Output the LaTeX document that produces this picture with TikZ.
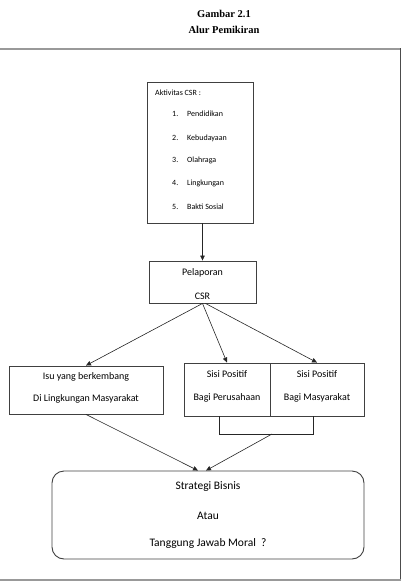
\documentclass[tikz,border=0pt]{standalone}
\usepackage{fontspec}
\setmainfont{Carlito}
\newfontfamily\judulfont{Liberation Serif}
\usetikzlibrary{arrows.meta}

\begin{document}
\begin{tikzpicture}[x=1pt,y=-1pt,
  kotak/.style={draw=black!75, line width=0.9pt, inner sep=0pt},
  panah/.style={black!85, line width=0.6pt, -{Triangle[length=5pt,width=4.5pt]}},
  garis/.style={black!85, line width=0.6pt},
  teks/.style={font=\fontsize{10}{12}\selectfont, inner sep=0pt},
  kecil/.style={font=\fontsize{8}{9}\selectfont, inner sep=0pt, anchor=west},
  judul/.style={font=\judulfont\bfseries\fontsize{10.5}{12}\selectfont, inner sep=0pt}]

\useasboundingbox (0,0) rectangle (401,585);

\node[judul] (judul1) at (224,14) {Gambar 2.1};
\node[judul] (judul2) at (224,30) {Alur Pemikiran};

% bingkai
\draw[gray!80, line width=2pt] (0,49.5) -- (400,49.5);
\draw[black!70, line width=1pt] (400,48.5) -- (400,580);
\draw[gray!80, line width=2pt] (0,580) -- (401,580);

% kotak
\node[kotak, minimum width=106pt, minimum height=141pt] (csr) at (200,152.5) {};
\node[kotak, minimum width=107pt, minimum height=42pt] (lapor) at (202.5,282) {};
\node[kotak, minimum width=154pt, minimum height=48pt] (isu) at (86,390) {};
\node[kotak, minimum width=86pt, minimum height=53pt] (sisiA) at (227,389.5) {};
\node[kotak, minimum width=94pt, minimum height=53pt] (sisiB) at (317,389.5) {};
\node[kotak, rounded corners=12pt, minimum width=312pt, minimum height=88pt] (strat) at (208,515) {};

% isi kotak csr
\node[kecil] (akt) at (155,93) {Aktivitas CSR :};
\node[kecil] (n1) at (172,114) {1.};
\node[kecil] (n2) at (172,138) {2.};
\node[kecil] (n3) at (172,160) {3.};
\node[kecil] (n4) at (172,183) {4.};
\node[kecil] (n5) at (172,207) {5.};
\node[kecil] (k1) at (187,114) {Pendidikan};
\node[kecil] (k2) at (187,138) {Kebudayaan};
\node[kecil] (k3) at (187,160) {Olahraga};
\node[kecil] (k4) at (187,183) {Lingkungan};
\node[kecil] (k5) at (187,207) {Bakti Sosial};

% teks kotak lain
\node[teks] (lap1) at (202.5,273) {Pelaporan};
\node[teks] (lap2) at (202.5,296) {CSR};
\node[teks] (isu1) at (86,377) {Isu yang berkembang};
\node[teks] (isu2) at (86,399) {Di Lingkungan Masyarakat};
\node[teks] (sa1) at (227,374) {Sisi Positif};
\node[teks] (sa2) at (227,398) {Bagi Perusahaan};
\node[teks] (sb1) at (317,374) {Sisi Positif};
\node[teks] (sb2) at (317,398) {Bagi Masyarakat};
\node[teks, font=\fontsize{11.5}{13}\selectfont] (st1) at (208,487) {Strategi Bisnis};
\node[teks, font=\fontsize{11.5}{13}\selectfont] (st2) at (208,516) {Atau};
\node[teks, font=\fontsize{11.5}{13}\selectfont] (st3) at (208,543) {Tanggung Jawab Moral\ \ ?};

% panah
\draw[panah] (lapor.north |- csr.south) -- (lapor.north);
\draw[panah] (lapor.south) -- (isu.north);
\draw[panah] (lapor.south) -- (sisiA.north);
\draw[panah] ([xshift=3pt]lapor.south) -- (sisiB.north);

% kurung bawah
\coordinate (ka) at (219,416);
\coordinate (kb) at (313,416);
\coordinate (kt) at (272,434);
\draw[garis] (ka) -- (219,434) -- (313,434) -- (kb);
\draw[panah] (isu.south) -- ([xshift=-10pt]strat.north);
\draw[panah] (kt) -- ([xshift=-2pt]strat.north);

\end{tikzpicture}
\end{document}
